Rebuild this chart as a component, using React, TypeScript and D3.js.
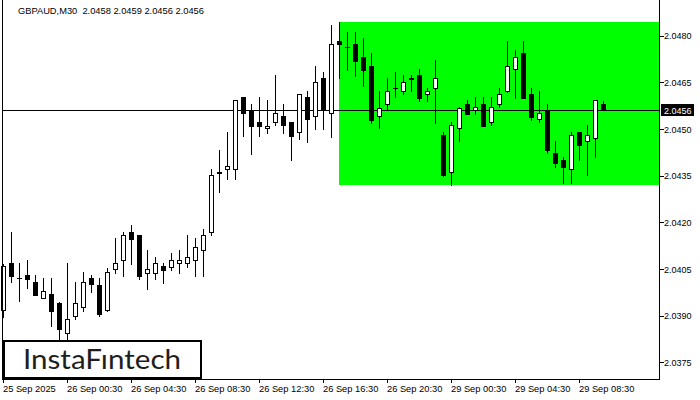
import React from "react";
import * as d3 from "d3";

const opens = [2.03917, 2.04069, 2.04022, 2.04031, 2.04008, 2.03958, 2.03970, 2.03941, 2.03846, 2.03898, 2.03927, 2.04021, 2.03999, 2.03917, 2.04049, 2.04078, 2.04168, 2.04159, 2.04038, 2.04038, 2.04059, 2.04058, 2.04068, 2.04068, 2.04078, 2.04110, 2.04168, 2.04361, 2.04371, 2.04371, 2.04603, 2.04560, 2.04522, 2.04502, 2.04522, 2.04541, 2.04522, 2.04490, 2.04603, 2.04541, 2.04664, 2.04551, 2.04782, 2.04764, 2.04772, 2.04731, 2.04702, 2.04541, 2.04580, 2.04631, 2.04621, 2.04662, 2.04673, 2.04612, 2.04631, 2.04480, 2.04361, 2.04502, 2.04580, 2.04560, 2.04580, 2.04522, 2.04580, 2.04621, 2.04692, 2.04743, 2.04613, 2.04531, 2.04560, 2.04422, 2.04400, 2.04371, 2.04490, 2.04461, 2.04470, 2.04580];
const highs = [2.04066, 2.04170, 2.04069, 2.04080, 2.04031, 2.04022, 2.04022, 2.03943, 2.04069, 2.04008, 2.04040, 2.04031, 2.04021, 2.04052, 2.04150, 2.04169, 2.04192, 2.04161, 2.04111, 2.04088, 2.04068, 2.04102, 2.04111, 2.04160, 2.04150, 2.04179, 2.04371, 2.04433, 2.04491, 2.04594, 2.04604, 2.04580, 2.04603, 2.04593, 2.04674, 2.04580, 2.04523, 2.04613, 2.04623, 2.04703, 2.04683, 2.04834, 2.04844, 2.04811, 2.04811, 2.04792, 2.04743, 2.04622, 2.04663, 2.04682, 2.04673, 2.04673, 2.04692, 2.04631, 2.04721, 2.04490, 2.04522, 2.04570, 2.04592, 2.04602, 2.04602, 2.04602, 2.04631, 2.04783, 2.04754, 2.04783, 2.04631, 2.04621, 2.04580, 2.04461, 2.04409, 2.04490, 2.04491, 2.04512, 2.04593, 2.04590];
const lows = [2.03897, 2.04007, 2.03948, 2.03988, 2.03966, 2.03958, 2.03868, 2.03815, 2.03815, 2.03888, 2.03916, 2.03977, 2.03899, 2.03916, 2.04038, 2.04029, 2.04067, 2.04019, 2.03987, 2.04019, 2.04006, 2.04048, 2.04038, 2.04058, 2.04029, 2.04029, 2.04158, 2.04299, 2.04341, 2.04341, 2.04479, 2.04421, 2.04479, 2.04488, 2.04512, 2.04488, 2.04400, 2.04469, 2.04459, 2.04501, 2.04501, 2.04474, 2.04663, 2.04691, 2.04671, 2.04639, 2.04520, 2.04502, 2.04561, 2.04602, 2.04612, 2.04621, 2.04591, 2.04591, 2.04520, 2.04350, 2.04319, 2.04461, 2.04548, 2.04549, 2.04510, 2.04512, 2.04570, 2.04620, 2.04601, 2.04600, 2.04530, 2.04522, 2.04422, 2.04379, 2.04328, 2.04328, 2.04400, 2.04351, 2.04409, 2.04560];
const closes = [2.04059, 2.04029, 2.04021, 2.04018, 2.03968, 2.03979, 2.03916, 2.03858, 2.03888, 2.03940, 2.04007, 2.04003, 2.03906, 2.04040, 2.04068, 2.04158, 2.04148, 2.04029, 2.04049, 2.04068, 2.04048, 2.04078, 2.04078, 2.04088, 2.04120, 2.04158, 2.04351, 2.04360, 2.04380, 2.04592, 2.04550, 2.04511, 2.04510, 2.04511, 2.04551, 2.04512, 2.04479, 2.04612, 2.04531, 2.04650, 2.04561, 2.04772, 2.04772, 2.04763, 2.04720, 2.04691, 2.04530, 2.04569, 2.04621, 2.04632, 2.04650, 2.04663, 2.04601, 2.04621, 2.04663, 2.04351, 2.04512, 2.04569, 2.04549, 2.04570, 2.04511, 2.04570, 2.04612, 2.04702, 2.04732, 2.04601, 2.04540, 2.04551, 2.04432, 2.04390, 2.04379, 2.04480, 2.04450, 2.04480, 2.04592, 2.04560];

const timeTickIndex = [0, 8, 16, 24, 32, 40, 48, 56, 64, 72];
const timeTickLabels = ["25 Sep 2025", "26 Sep 00:30", "26 Sep 04:30", "26 Sep 08:30", "26 Sep 12:30", "26 Sep 16:30", "26 Sep 20:30", "29 Sep 00:30", "29 Sep 04:30", "29 Sep 08:30"];
const priceTicks = [2.0375, 2.039, 2.0405, 2.042, 2.0435, 2.045, 2.0465, 2.048];
const currentPrice = 2.0456;
const rectStartIndex = 42;
const rectTop = 2.04844;
const rectBottom = 2.04319;
const title = "GBPAUD,M30  2.0458 2.0459 2.0456 2.0456";

const W = 700, H = 400;
const plotLeft = 2.5, plotRight = 659.5, plotBottom = 379.5;
const FONT = "'Liberation Sans', Arial, sans-serif";

export default function App() {
  const x = d3.scaleLinear().domain([0, 75]).range([3.5, 603.5]);
  const y = d3.scaleLinear().domain([2.0375, 2.048]).range([362.4, 35.7]);
  const r = (v: number) => Math.round(v) + 0.5;

  const candles = opens.map((o, i) => {
    const c = closes[i];
    const cx = x(i);
    const yO = y(o), yC = y(c);
    const yT = Math.min(yO, yC), yB = Math.max(yO, yC);
    const bull = c >= o;
    const doji = Math.round(yB) - Math.round(yT) < 1;
    return (
      <g key={i}>
        <line x1={cx} x2={cx} y1={Math.round(y(highs[i]))} y2={Math.round(y(lows[i])) + 1} stroke="#000" strokeWidth={1} />
        {doji ? (
          <line x1={cx - 2.5} x2={cx + 2.5} y1={r(yT)} y2={r(yT)} stroke="#000" strokeWidth={1} />
        ) : (
          <rect x={cx - 2} y={r(yT)} width={4} height={Math.round(yB) - Math.round(yT)} fill={bull ? "#fff" : "#000"} stroke="#000" strokeWidth={1} />
        )}
      </g>
    );
  });

  const yCur = r(y(currentPrice));

  return (
    <svg width={W} height={H} style={{ position: "absolute", left: 0, top: 0, background: "#fff" }} shapeRendering="crispEdges">
      <rect x={0} y={0} width={W} height={H} fill="#fff" />
      <rect x={x(rectStartIndex) - 0.5} y={y(rectTop)} width={plotRight - (x(rectStartIndex) - 0.5)} height={y(rectBottom) - y(rectTop)} fill="#00ff00" />
      <line x1={plotLeft} x2={plotRight} y1={yCur} y2={yCur} stroke="#000" strokeWidth={1} />
      {candles}
      {/* frame */}
      <line x1={plotLeft} x2={plotLeft} y1={0} y2={plotBottom} stroke="#000" />
      <line x1={plotRight} x2={plotRight} y1={0} y2={plotBottom} stroke="#000" />
      <line x1={plotLeft} x2={plotRight} y1={plotBottom} y2={plotBottom} stroke="#000" />
      {/* price axis */}
      {priceTicks.map((p) => (
        <g key={p}>
          <line x1={plotRight} x2={plotRight + 4} y1={r(y(p))} y2={r(y(p))} stroke="#000" />
          <text x={664} y={y(p) + 3.5} fontFamily={FONT} fontSize={9} fill="#000">{p.toFixed(4)}</text>
        </g>
      ))}
      <rect x={661} y={104} width={33} height={12} fill="#000" />
      <text x={664} y={y(currentPrice) + 3.5} fontFamily={FONT} fontSize={9} fill="#fff">{currentPrice.toFixed(4)}</text>
      {/* time axis */}
      {timeTickIndex.map((k, i) => (
        <g key={k}>
          <line x1={x(k)} x2={x(k)} y1={plotBottom} y2={plotBottom + 3.5} stroke="#000" />
          <text x={x(k) - 0.5} y={392} fontFamily={FONT} fontSize={9.3} fill="#000">{timeTickLabels[i]}</text>
        </g>
      ))}
      {/* title */}
      <text x={18} y={14} fontFamily={FONT} fontSize={9.3} fill="#000" style={{ whiteSpace: "pre" }} xmlSpace="preserve">{title}</text>
      {/* logo */}
      <rect x={4} y={341} width={197} height={37} fill="#fff" stroke="#000" strokeWidth={2.5} />
      <text x={23} y={369} fontFamily="Lato, 'Open Sans', sans-serif" fontWeight={400} fontSize={27} fill="#1e1e1e" textLength={158} lengthAdjust="spacingAndGlyphs" shapeRendering="auto">InstaFıntech</text>
    </svg>
  );
}
